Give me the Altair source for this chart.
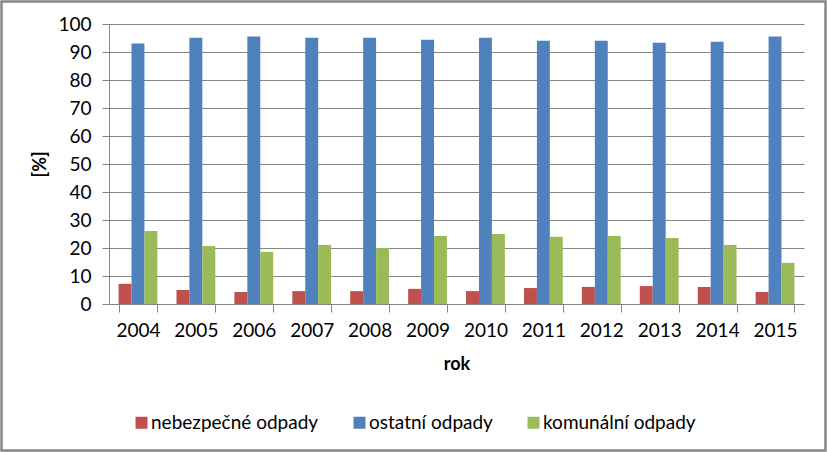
import altair as alt
import pandas as pd

years = ["2004", "2005", "2006", "2007", "2008", "2009", "2010", "2011", "2012", "2013", "2014", "2015"]
series = ["nebezpečné odpady", "ostatní odpady", "komunální odpady"]
nebezpecne = [7.2, 5.0, 4.3, 4.6, 4.6, 5.4, 4.6, 5.7, 6.1, 6.4, 6.1, 4.3]
ostatni = [93.0, 95.1, 95.5, 95.1, 95.1, 94.4, 95.1, 94.0, 94.0, 93.3, 93.7, 95.5]
komunalni = [26.1, 20.7, 18.6, 21.1, 20.0, 24.3, 25.0, 24.0, 24.3, 23.6, 21.1, 14.7]
y_ticks = [0, 10, 20, 30, 40, 50, 60, 70, 80, 90, 100]
colors = ["#C0504D", "#4F81BD", "#9BBB59"]

rows = []
for name, vals in zip(series, [nebezpecne, ostatni, komunalni]):
    for y, v in zip(years, vals):
        rows.append({"rok": y, "serie": name, "hodnota": v})
df = pd.DataFrame(rows)

FONT = "Lato"
W, H = 695, 280
PL, PT = 109, 24
PR = 827 - PL - W
PB = 452 - PT - H

bars = alt.Chart(df).mark_bar().encode(
    x=alt.X("rok:O", sort=years,
            scale=alt.Scale(paddingInner=0.33, paddingOuter=0.165),
            axis=alt.Axis(title="rok", labelAngle=0, tickBand="extent",
                          tickSize=8, labelPadding=9, titleY=60,
                          titleBaseline="middle")),
    xOffset=alt.XOffset("serie:N", sort=series),
    y=alt.Y("hodnota:Q", scale=alt.Scale(domain=[0, 100], nice=False),
            axis=alt.Axis(title="[%]", values=y_ticks, labelOverlap=False,
                          labelFlush=False, tickSize=7, labelPadding=11,
                          titleX=-69, titleY=H / 2, titleAngle=270,
                          titleAlign="center", titleBaseline="middle", grid=True)),
    color=alt.Color("serie:N", sort=series,
                    scale=alt.Scale(domain=series, range=colors),
                    legend=alt.Legend(title=None, orient="none", direction="horizontal",
                                      legendX=23, legendY=389, symbolType="square",
                                      symbolSize=144, symbolStrokeWidth=0,
                                      columnPadding=31, labelOffset=0, labelLimit=400)),
)

border = alt.Chart(alt.Data(values=[{"a": 1}])).mark_rect(
    fill=None, stroke="#868686", strokeWidth=2.5
).encode(
    x=alt.value(-PL + 1.5), x2=alt.value(W + PR - 1.5),
    y=alt.value(-PT + 1.5), y2=alt.value(H + PB - 1.5),
)

chart = alt.layer(bars, border).properties(
    width=W, height=H,
    autosize=alt.AutoSizeParams(type="none"),
    padding={"left": PL, "top": PT, "right": PR, "bottom": PB},
    background="white",
).configure_view(stroke=None).configure_axis(
    labelFont=FONT, labelFontSize=19, labelColor="#000000",
    titleFont=FONT, titleFontSize=18, titleFontWeight="bold", titleColor="#000000",
    domainColor="#868686", tickColor="#868686", gridColor="#868686",
    domainWidth=1, tickWidth=1, gridWidth=1,
).configure_axisX(grid=False).configure_legend(
    labelFont=FONT, labelFontSize=19, labelColor="#000000",
)

chart.save("out.html", embed_options={"renderer": "svg", "actions": False})
